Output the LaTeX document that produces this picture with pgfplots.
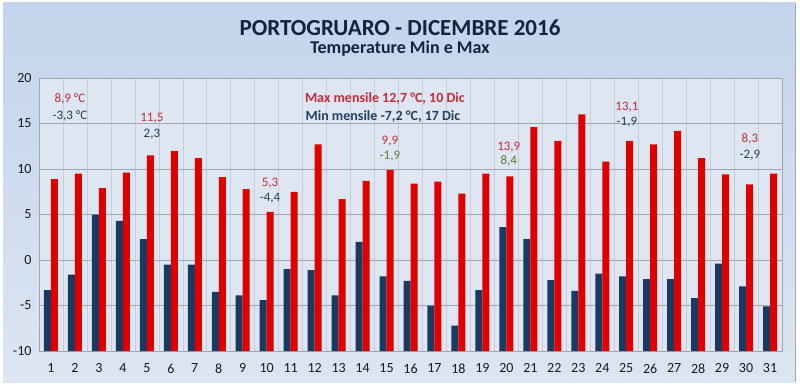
\documentclass[border=0pt]{standalone}
\usepackage{pgfplots}
\pgfplotsset{compat=1.18}
\usepackage{fontspec}
\setmainfont{Carlito}
\definecolor{maxred}{HTML}{E00000}
\definecolor{minblue}{HTML}{1B3A62}
\definecolor{lblred}{HTML}{C62C3A}
\definecolor{lblblue}{HTML}{22405F}
\definecolor{lblgreen}{HTML}{5A7A3C}
\definecolor{titleblue}{HTML}{10233F}
\definecolor{plotbg}{HTML}{DDE6F1}
\definecolor{gridc}{HTML}{9EA6B1}
\definecolor{vgrid}{HTML}{C4CDD9}
\definecolor{bgtop}{HTML}{C3D4EC}
\definecolor{bgbot}{HTML}{DCE5F2}
\begin{document}
\begin{tikzpicture}[x=1pt,y=1pt]
\useasboundingbox (0,0) rectangle (800,386);
\fill[white] (0,0) rectangle (800,386);
\shade[top color=bgtop, bottom color=bgbot] (3,4) rectangle (795,383);
\draw[gray!70, line width=0.8pt] (795,4) -- (795,383);
\node[font=\bfseries\fontsize{23}{26}\selectfont, text=titleblue] at (400,358) {PORTOGRUARO - DICEMBRE 2016};
\node[font=\bfseries\fontsize{18}{20}\selectfont, text=titleblue] at (400,337) {Temperature Min e Max};
\begin{axis}[at={(39pt,35pt)}, anchor=south west, scale only axis,
  width=743pt, height=273pt,
  xmin=0.5, xmax=31.5, ymin=-10, ymax=20,
  y coord trafo/.code={\pgfmathparse{#1+10}},
  y coord inv trafo/.code={\pgfmathparse{#1-10}},
  ytick={-10,-5,0,5,10,15,20},
  xtick={1,...,31},
  minor xtick={1.5,2.5,...,30.5},
  ymajorgrids, xminorgrids,
  major grid style={draw=gridc, line width=0.8pt},
  minor grid style={draw=vgrid, line width=0.6pt},
  axis line style={draw=gridc, line width=0.8pt},
  tick style={draw=none},
  axis background/.style={fill=plotbg},
  /pgf/number format/assume math mode=true,
  ticklabel style={font=\fontsize{14}{16}\selectfont, text=black!90},
  yticklabel style={xshift=-4pt},
  xticklabel style={yshift=-5pt},
  ybar=0pt, bar width=7pt,
  clip=true,
]
\addplot[fill=minblue, draw=none] coordinates {
(1,-3.3) (2,-1.6) (3,5.0) (4,4.3) (5,2.3) (6,-0.5) (7,-0.5) (8,-3.5) (9,-3.9) (10,-4.4)
(11,-1.0) (12,-1.1) (13,-3.9) (14,2.0) (15,-1.8) (16,-2.3) (17,-5.0) (18,-7.2) (19,-3.3) (20,3.6)
(21,2.3) (22,-2.2) (23,-3.4) (24,-1.5) (25,-1.8) (26,-2.1) (27,-2.1) (28,-4.2) (29,-0.4) (30,-2.9) (31,-5.1)
};
\addplot[fill=maxred, draw=none] coordinates {
(1,8.9) (2,9.5) (3,7.9) (4,9.6) (5,11.5) (6,12.0) (7,11.2) (8,9.1) (9,7.8) (10,5.3)
(11,7.5) (12,12.7) (13,6.7) (14,8.7) (15,9.9) (16,8.4) (17,8.6) (18,7.3) (19,9.5) (20,9.2)
(21,14.6) (22,13.1) (23,16.0) (24,10.8) (25,13.1) (26,12.7) (27,14.2) (28,11.2) (29,9.4) (30,8.3) (31,9.5)
};
\begin{scope}[every node/.style={font=\fontsize{13}{15}\selectfont}]
\node[text=lblred] at (axis cs:1.79,17.7) {8,9 °C};
\node[text=lblblue] at (axis cs:1.79,15.8) {-3,3 °C};
\node[text=lblred] at (axis cs:5.21,15.6) {11,5};
\node[text=lblblue] at (axis cs:5.21,13.85) {2,3};
\node[text=lblred] at (axis cs:10.14,8.5) {5,3};
\node[text=lblblue] at (axis cs:10.14,6.8) {-4,4};
\node[text=lblred] at (axis cs:15.14,13.1) {9,9};
\node[text=lblgreen] at (axis cs:15.14,11.4) {-1,9};
\node[text=lblred] at (axis cs:20.1,12.4) {13,9};
\node[text=lblgreen] at (axis cs:20.1,10.9) {8,4};
\node[text=lblred] at (axis cs:25.03,16.8) {13,1};
\node[text=lblblue] at (axis cs:25.03,15.2) {-1,9};
\node[text=lblred] at (axis cs:30.16,13.3) {8,3};
\node[text=lblblue] at (axis cs:30.16,11.5) {-2,9};
\node[text=lblred, font=\bfseries\fontsize{14}{16}\selectfont] at (axis cs:14.93,17.7) {Max mensile 12,7 °C, 10 Dic};
\node[text=lblblue, font=\bfseries\fontsize{14}{16}\selectfont] at (axis cs:14.85,15.8) {Min mensile -7,2 °C, 17 Dic};
\end{scope}
\end{axis}
\end{tikzpicture}
\end{document}
